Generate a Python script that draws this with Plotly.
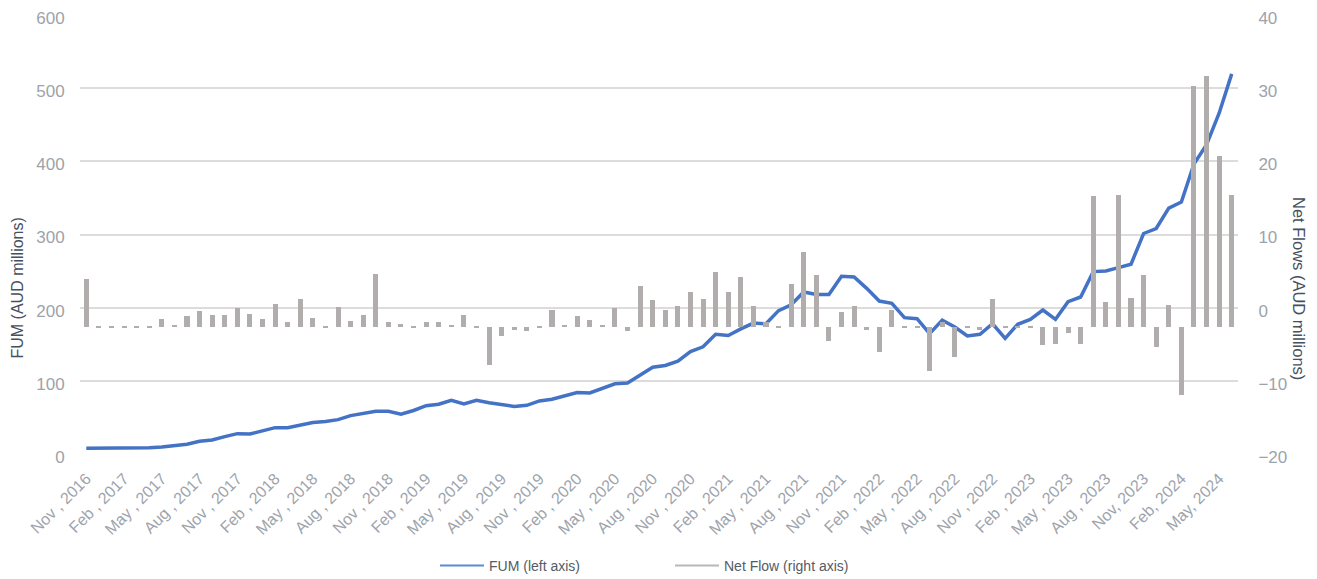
import plotly.graph_objects as go

# ---------------- data ----------------
n_points = 92  # Nov 2016 .. Jun 2024, monthly

fum = [
    8, 8, 8, 8, 8, 8.5, 9.6, 11.4, 13.3, 17.4, 19.2, 23.7, 27.8, 27.4, 31.5, 36,
    36, 40, 43, 44.5, 47, 52.5, 55, 58.5, 58.5, 54.5, 59.5, 66, 68, 73.5, 68.5,
    73.5, 70, 67.5, 65, 66.5, 72.5, 74.8, 80, 84, 83.5, 89.5, 96, 97, 108, 118.5,
    121, 127, 140, 146.5, 163.5, 162, 171, 179, 178, 196, 204, 221.5, 218, 218, 243,
    242, 226.4, 209, 206, 186.4, 185, 164.5, 183, 173.6, 161.4, 163.6, 178, 158, 177.3,
    184, 196.8, 184, 208.2, 214.6, 249.3, 250.2, 254.8, 259.4, 301.4, 308.2, 336, 344.3,
    396.3, 422.8, 465.8, 519.6,
]

net_flow = [
    3.9, -2.5, -2.5, -2.5, -2.5, -2.5, -1.5, -2.4, -1.1, -0.5, -1.0, -1.0, 0.0, -0.8, -1.6, 0.5,
    -2.0, 1.2, -1.4, -2.5, 0.1, -1.8, -1.0, 4.6, -1.9, -2.2, -2.5, -1.9, -1.9, -2.4, -1.0,
    -2.5, -7.9, -3.9, -3.0, -3.2, -2.5, -0.3, -2.3, -1.1, -1.7, -2.3, 0.0, -3.2, 2.9, 1.0,
    -0.3, 0.2, 2.2, 1.2, 4.9, 2.1, 4.2, 0.2, -2.0, -2.5, 3.2, 7.6, 4.4, -4.6, -0.6,
    0.2, -3.0, -6.1, -0.3, -2.6, -2.6, -8.7, -2.0, -6.7, -2.6, -3.0, 1.2, -2.6, -2.6, -2.6,
    -5.1, -5.0, -3.4, -4.9, 15.2, 0.8, 15.4, 1.3, 4.4, -5.4, 0.4, -11.9, 30.3, 31.7, 20.7,
    15.4,
]

tick_step = 3
tick_labels = [
    "Nov , 2016", "Feb , 2017", "May , 2017", "Aug , 2017", "Nov , 2017", "Feb , 2018",
    "May , 2018", "Aug , 2018", "Nov , 2018", "Feb , 2019", "May , 2019", "Aug , 2019",
    "Nov , 2019", "Feb , 2020", "May , 2020", "Aug , 2020", "Nov , 2020", "Feb , 2021",
    "May , 2021", "Aug , 2021", "Nov , 2021", "Feb , 2022", "May , 2022", "Aug , 2022",
    "Nov , 2022", "Feb , 2023", "May , 2023", "Aug , 2023", "Nov, 2023", "Feb, 2024",
    "May, 2024",
]

left_ticks = [0, 100, 200, 300, 400, 500, 600]
right_ticks = [-20, -10, 0, 10, 20, 30, 40]
bar_base = -2.7

# ---------------- figure ----------------
x_idx = list(range(n_points))
tick_vals = list(range(0, n_points, tick_step))[: len(tick_labels)]

FONT = "Arial, Liberation Sans, sans-serif"
TICK_COLOR = "#9da3ab"
TITLE_COLOR = "#46505e"
GRID = "#dcdcdc"
BLUE = "#4472c4"
GREY = "#b1adac"

# the page body adds an 8px offset; size the figure so it fills the 1317x579 window
OFF = 8
W, H = 1317 - OFF, 579 - OFF
ML, MR, MT, MB = 80 - OFF, 79, 15 - OFF, 125
plot_w = W - ML - MR
plot_h = H - MT - MB


def px_x(page_x):
    return (page_x - OFF - ML) / plot_w


def px_y(page_y):
    return (MT + plot_h - (page_y - OFF)) / plot_h


fig = go.Figure()

fig.add_trace(go.Bar(
    x=x_idx,
    y=[v - bar_base for v in net_flow],
    base=bar_base,
    yaxis="y2",
    marker=dict(color=GREY, line=dict(width=0)),
    width=0.4,
    showlegend=False,
    name="Net Flow (right axis)",
))

fig.add_trace(go.Scatter(
    x=x_idx, y=fum, mode="lines",
    line=dict(color=BLUE, width=3.5),
    name="FUM (left axis)",
    showlegend=False,
))

# legend entries (thin lines, as in the reference)
fig.add_trace(go.Scatter(
    x=[None], y=[None], mode="lines",
    line=dict(color="#5b8bd6", width=2),
    name="FUM (left axis)",
))
fig.add_trace(go.Scatter(
    x=[None], y=[None], mode="lines",
    line=dict(color="#b8b8b8", width=2),
    name="Net Flow (right axis)",
    yaxis="y2",
))

fig.update_layout(
    width=W, height=H,
    margin=dict(l=ML, r=MR, t=MT, b=MB, autoexpand=False),
    paper_bgcolor="white", plot_bgcolor="white",
    font=dict(family=FONT, size=16, color=TICK_COLOR),
    bargap=0,
    xaxis=dict(
        range=[-0.5, n_points - 0.5], automargin=False,
        tickmode="array", tickvals=tick_vals, ticktext=tick_labels,
        tickangle=-45, showgrid=False, zeroline=False, showline=False,
        ticks="outside", ticklen=8, tickcolor="rgba(0,0,0,0)",
        tickfont=dict(size=16, color=TICK_COLOR),
    ),
    yaxis=dict(
        range=[left_ticks[0], left_ticks[-1] + 0.05],
        tickmode="array", tickvals=left_ticks,
        showgrid=True, gridcolor=GRID, gridwidth=1.5,
        zeroline=False, showline=False, automargin=False,
        ticks="outside", ticklen=11, tickcolor="rgba(0,0,0,0)",
        ticklabeloverflow="allow", ticklabelshift=3,
        tickfont=dict(size=17, color=TICK_COLOR),
    ),
    yaxis2=dict(
        range=[right_ticks[0], right_ticks[-1] + 0.005],
        tickmode="array", tickvals=right_ticks,
        overlaying="y", side="right", showgrid=False,
        zeroline=False, showline=False, automargin=False,
        ticks="outside", ticklen=16, tickcolor="rgba(0,0,0,0)",
        ticklabeloverflow="allow", ticklabelshift=3,
        tickfont=dict(size=17, color=TICK_COLOR),
    ),
    legend=dict(
        orientation="h", x=px_x(435), xanchor="left",
        y=px_y(566), yanchor="middle",
        entrywidth=176, entrywidthmode="pixels", itemwidth=44,
        font=dict(size=14, color="#555b63"),
        bgcolor="rgba(0,0,0,0)",
    ),
    annotations=[
        dict(text="FUM (AUD millions)", x=px_x(17.5), y=px_y(288),
             xref="paper", yref="paper",
             xanchor="center", yanchor="middle", showarrow=False, textangle=-90,
             font=dict(size=16, color=TITLE_COLOR)),
        dict(text="Net Flows (AUD millions)", x=px_x(1299), y=px_y(289),
             xref="paper", yref="paper",
             xanchor="center", yanchor="middle", showarrow=False, textangle=90,
             font=dict(size=16.5, color=TITLE_COLOR)),
    ],
)

fig.write_html("out.html")
